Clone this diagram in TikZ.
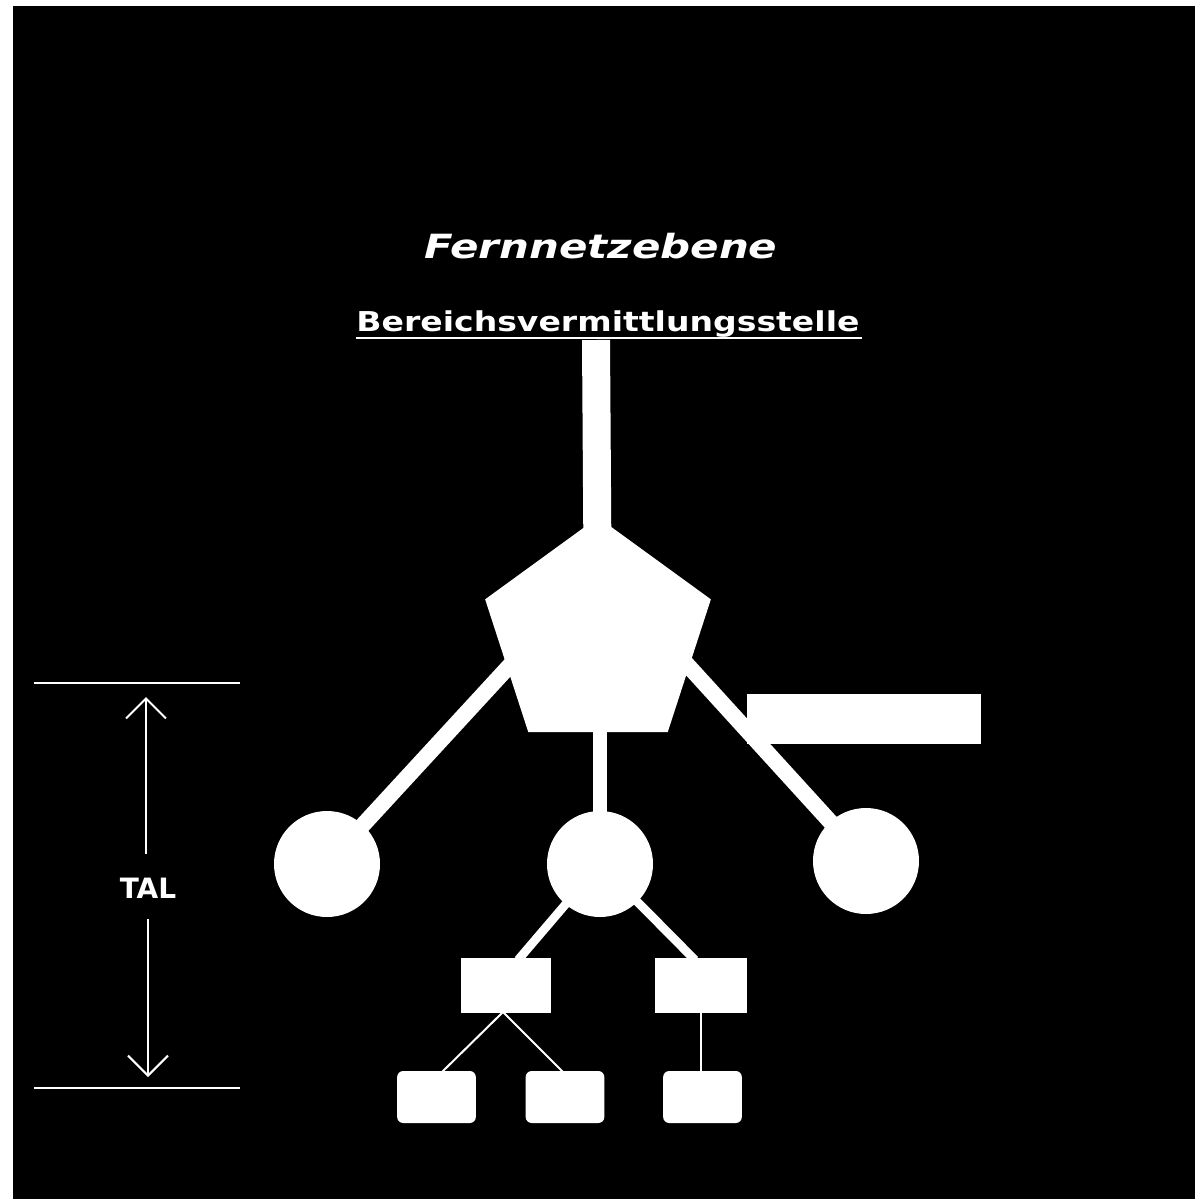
\documentclass[tikz,border=0pt]{standalone}
\usepackage{fontspec}
\usepackage{graphicx}
\setmainfont{DejaVu Sans}
\usetikzlibrary{shapes.geometric,arrows.meta}
\begin{document}
\begin{tikzpicture}[x=0.75pt,y=-0.75pt,
  fillw/.style={fill=white,draw=none,inner sep=0pt,outer sep=0pt},
  pent/.style={fillw,regular polygon,regular polygon sides=5,minimum size=178pt},
  hub/.style={fillw,circle,minimum size=79.5pt},
  box/.style={fillw,rectangle},
  leaf/.style={fill=white,draw=none,rectangle,rounded corners=4.5pt,minimum width=59pt,minimum height=39pt,inner sep=0pt},
  thick1/.style={white,line width=21pt},
  thick2/.style={white,line width=12pt},
  thick3/.style={white,line width=10.5pt},
  thick4/.style={white,line width=6.5pt},
  thin1/.style={white,line width=1.5pt},
  dimarr/.style={white,line width=1.5pt,-{Straight Barb[length=15pt,width=30pt,line width=1.5pt]}},
  lbl/.style={text=white,inner sep=0pt,outer sep=0pt}
]
\useasboundingbox (0,0) rectangle (1195,1199);
\fill[white] (0,0) rectangle (1195,1199);
\fill[black] (13,6) rectangle (1205,1209);

% titles
\node[lbl,font=\bfseries\itshape\fontsize{25pt}{28pt}\selectfont] (fern) at (601,246) {\scalebox{1.26}[1]{Fernnetzebene}};
\node[lbl,anchor=base,font=\bfseries\fontsize{20.5pt}{24pt}\selectfont] (bvs) at (608,331) {\scalebox{1.21}[1]{Bereichsvermittlungsstelle}};
\draw[thin1] (356,338) -- (862,338);

% nodes
\node[pent] (P) at (598,636) {};
\node[hub] (CL) at (327,864) {};
\node[hub] (CM) at (600,864) {};
\node[hub] (CR) at (866,861) {};
\node[box,minimum width=175.5pt,minimum height=37.5pt] (RB) at (864,718.5) {};
\node[box,minimum width=68pt,minimum height=41pt] (R1) at (506,985.5) {};
\node[box,minimum width=69pt,minimum height=41pt] (R2) at (701,985.5) {};
\node[leaf] (A) at (436.5,1097) {};
\node[leaf] (B) at (565,1097) {};
\node[leaf] (C) at (702.5,1097) {};

% coordinates
\coordinate (bartop) at (596,340);
\coordinate (pl) at (536,637);
\coordinate (pr) at (662,637);
\coordinate (pm) at (600,700);
\coordinate (r1t) at (518,960);
\coordinate (r2t) at (695,960);
\coordinate (r1b) at (503,1012);
\coordinate (r2b) at (701,1012);
\coordinate (at) at (442,1072);
\coordinate (bt) at (563,1072);
\coordinate (ct) at (701,1072);

% connectors
\draw[thick1] (bartop) -- (P.center);
\draw[thick2] (pl) -- (CL.center);
\draw[thick2] (pr) -- (CR.center);
\draw[thick3] (pm) -- (CM.center);
\draw[thick4] (CM.center) -- (r1t);
\draw[thick4] (CM.center) -- (r2t);
\draw[thin1] (r1b) -- (at);
\draw[thin1] (r1b) -- (bt);
\draw[thin1] (r2b) -- (ct);

% TAL dimension
\coordinate (d1l) at (34,683);
\coordinate (d1r) at (240,683);
\coordinate (d2l) at (34,1088);
\coordinate (d2r) at (240,1088);
\draw[thin1] (d1l) -- (d1r);
\draw[thin1] (d2l) -- (d2r);
\node[lbl,font=\bfseries\fontsize{21pt}{24pt}\selectfont] (tal) at (148,888) {TAL};
\coordinate (u0) at (146,854);
\coordinate (u1) at (146,697);
\coordinate (l0) at (148,919);
\coordinate (l1) at (148,1077);
\draw[dimarr] (u0) -- (u1);
\draw[dimarr] (l0) -- (l1);
\end{tikzpicture}
\end{document}
